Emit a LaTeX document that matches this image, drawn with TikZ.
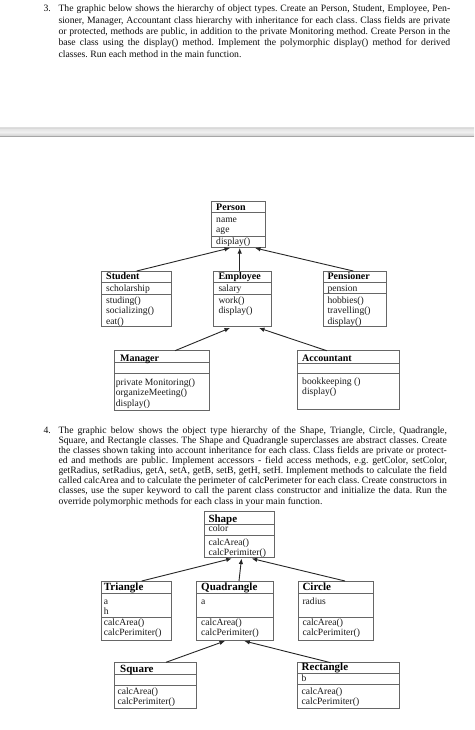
\documentclass[tikz,border=0pt]{standalone}
\usepackage{fontspec}
\setmainfont{Liberation Serif}
\frenchspacing
\usetikzlibrary{arrows.meta,calc}
\tikzset{
 boxfr/.style={draw=black!60, line width=0.7pt, inner sep=0pt, outer sep=0pt, anchor=north west},
 divl/.style={draw=black!60, line width=0.7pt},
 ttl/.style={font=\fontsize{10}{10}\selectfont\bfseries, inner sep=0pt, anchor=base west, text=black},
 ttlb/.style={font=\fontsize{11}{11}\selectfont\bfseries, inner sep=0pt, anchor=base west, text=black},
 itm/.style={font=\fontsize{9.6}{10}\selectfont, inner sep=0pt, anchor=base west, text=black!90},
 para/.style={font=\fontsize{9.7}{10}\selectfont, inner sep=0pt, anchor=base west, text=black!95},
 inh/.style={draw=black!85, line width=0.9pt, -{Latex[length=5.5pt,width=4.5pt]}},
}
% name, x1, y1, x2, y2, divider1, divider2
\newcommand\umlframe[7]{%
 \node[boxfr, minimum width={(#4-#2)*1pt}, minimum height={(#5-#3)*1pt}] (#1) at (#2,#3) {};
 \draw[divl] ($(#1.north west)+(0,#6-#3)$) -- ($(#1.north east)+(0,#6-#3)$);
 \draw[divl] ($(#1.north west)+(0,#7-#3)$) -- ($(#1.north east)+(0,#7-#3)$);
}
\begin{document}
\begin{tikzpicture}[x=1pt,y=-1pt]
\useasboundingbox (0,0) rectangle (474,730);
\fill[white] (0,0) rectangle (474,730);

% ---------- section 3 text ----------
\node[para] (n3) at (43.3,12) {3.};
\node[para] (p3a) at (58.3,12) {\makebox[391.7pt][s]{The graphic below shows the hierarchy of object types. Create an Person, Student, Employee, Pen-}};
\node[para] (p3b) at (58.3,23.3) {\makebox[391.7pt][s]{sioner, Manager, Accountant class hierarchy with inheritance for each class. Class fields are private}};
\node[para] (p3c) at (58.3,34.6) {\makebox[391.7pt][s]{or protected, methods are public, in addition to the private Monitoring method. Create Person in the}};
\node[para] (p3d) at (58.3,45.9) {\makebox[391.7pt][s]{base class using the display() method. Implement the polymorphic display() method for derived}};
\node[para] (p3e) at (58.3,57.2) {classes. Run each method in the main function.};

% ---------- gray bar ----------
\shade[top color=black!12, bottom color=black!20, middle color=black!6] (0,127.7) rectangle (474,136.5);
\draw[black!35, line width=0.8pt] (0,136.7) -- (474,136.7);
\draw[black!15, line width=0.4pt] (0,127.9) -- (474,127.9);

% ---------- top diagram ----------
\umlframe{person}{211.7}{201}{265.7}{247.3}{212.3}{236.7}
\node[ttl] (person-t) at (216,210) {Person};
\node[itm] (person-a1) at (216,222.3) {name};
\node[itm] (person-a2) at (216,232.3) {age};
\node[itm] (person-m1) at (216,244) {display()};

\umlframe{student}{101.7}{271}{171}{326.7}{282.7}{294}
\node[ttl] (student-t) at (106,279.5) {Student};
\node[itm] (student-a1) at (106,291.5) {scholarship};
\node[itm] (student-m1) at (106,303.5) {studing()};
\node[itm] (student-m2) at (106,313.8) {socializing()};
\node[itm] (student-m3) at (106,324) {eat()};

\umlframe{employee}{213.3}{271}{271.7}{326.7}{282.7}{294}
\node[ttl] (employee-t) at (218.3,279.5) {Employee};
\node[itm] (employee-a1) at (218.3,291.5) {salary};
\node[itm] (employee-m1) at (218.3,303.5) {work()};
\node[itm] (employee-m2) at (218.3,313.8) {display()};

\umlframe{pensioner}{323.3}{271}{386.7}{326.7}{282}{293.5}
\node[ttl] (pensioner-t) at (327.3,279.5) {Pensioner};
\node[itm] (pensioner-a1) at (327.3,291.5) {pension};
\node[itm] (pensioner-m1) at (327.3,303.5) {hobbies()};
\node[itm] (pensioner-m2) at (327.3,313.8) {travelling()};
\node[itm] (pensioner-m3) at (327.3,324) {display()};

\umlframe{manager}{114}{350.7}{209.3}{410}{362.7}{373.3}
\node[ttl] (manager-t) at (120,361) {Manager};
\node[itm] (manager-m1) at (115.7,385.5) {private Monitoring()};
\node[itm] (manager-m2) at (115.7,395.5) {organizeMeeting()};
\node[itm] (manager-m3) at (115.7,406) {display()};

\umlframe{accountant}{297}{350.7}{399.3}{409.3}{363}{373.3}
\node[ttl] (accountant-t) at (302,361) {Accountant};
\node[itm] (accountant-m1) at (302,384.7) {bookkeeping ()};
\node[itm] (accountant-m2) at (302,394.7) {display()};

\draw[inh] ($(student.north west)+(35,0)$) -- ($(person.south west)+(18.3,0.7)$);
\draw[inh] ($(employee.north west)+(26.4,0)$) -- ($(person.south west)+(28,0.7)$);
\draw[inh] ($(pensioner.north west)+(30,0)$) -- ($(person.south west)+(43.3,0.7)$);
\draw[inh] ($(manager.north west)+(61,0)$) -- ($(employee.south west)+(16.7,1.3)$);
\draw[inh] ($(accountant.north west)+(29.7,0)$) -- ($(employee.south west)+(45.7,1.3)$);

% ---------- section 4 text ----------
\node[para] (n4) at (43.3,433.3) {4.};
\node[para] (p4a) at (58.3,433.3) {\makebox[388.4pt][s]{The graphic below shows the object type hierarchy of the Shape, Triangle, Circle, Quadrangle,}};
\node[para] (p4b) at (58.3,443.4) {\makebox[388.4pt][s]{Square, and Rectangle classes. The Shape and Quadrangle superclasses are abstract classes. Create}};
\node[para] (p4c) at (58.3,453.5) {\makebox[388.4pt][s]{the classes shown taking into account inheritance for each class. Class fields are private or protect-}};
\node[para] (p4d) at (58.3,463.6) {\makebox[388.4pt][s]{ed and methods are public. Implement accessors - field access methods, e.g. getColor, setColor,}};
\node[para] (p4e) at (58.3,473.7) {\makebox[388.4pt][s]{getRadius, setRadius, getA, setA, getB, setB, getH, setH. Implement methods to calculate the field}};
\node[para] (p4f) at (58.3,483.8) {\makebox[388.4pt][s]{called calcArea and to calculate the perimeter of calcPerimeter for each class. Create constructors in}};
\node[para] (p4g) at (58.3,493.9) {\makebox[388.4pt][s]{classes, use the super keyword to call the parent class constructor and initialize the data. Run the}};
\node[para] (p4h) at (58.3,504) {override polymorphic methods for each class in your main function.};

% ---------- bottom diagram ----------
\umlframe{shape}{204.3}{511}{274.3}{557.5}{524}{535}
\node[ttlb] (shape-t) at (208.3,522) {Shape};
\node[itm] (shape-a1) at (208.3,531.5) {color};
\node[itm] (shape-m1) at (208.3,545) {calcArea()};
\node[itm] (shape-m2) at (208.3,555.5) {calcPerimiter()};

\umlframe{triangle}{101.7}{581}{171.7}{640}{593}{617.8}
\node[ttlb] (triangle-t) at (103.7,590.5) {Triangle};
\node[itm] (triangle-a1) at (103.7,604) {a};
\node[itm] (triangle-a2) at (103.7,614) {h};
\node[itm] (triangle-m1) at (103.7,625) {calcArea()};
\node[itm] (triangle-m2) at (103.7,635) {calcPerimiter()};

\umlframe{quad}{196.7}{581}{273.3}{640}{593}{617.8}
\node[ttlb] (quad-t) at (201,590.5) {Quadrangle};
\node[itm] (quad-a1) at (201,604) {a};
\node[itm] (quad-m1) at (201,625) {calcArea()};
\node[itm] (quad-m2) at (201,635) {calcPerimiter()};

\umlframe{circle}{298.3}{581}{373.3}{640}{593}{617.8}
\node[ttlb] (circle-t) at (302.3,590.5) {Circle};
\node[itm] (circle-a1) at (302.3,604) {radius};
\node[itm] (circle-m1) at (302.3,625) {calcArea()};
\node[itm] (circle-m2) at (302.3,635) {calcPerimiter()};

\umlframe{square}{114}{662.3}{196.7}{708.3}{674.3}{685.7}
\node[ttlb] (square-t) at (120,672) {Square};
\node[itm] (square-m1) at (117.3,694) {calcArea()};
\node[itm] (square-m2) at (117.3,704) {calcPerimiter()};

\umlframe{rect}{297}{662.7}{399}{708.3}{673.3}{684.3}
\node[ttlb] (rect-t) at (301.5,670.7) {Rectangle};
\node[itm] (rect-a1) at (301.5,681.7) {b};
\node[itm] (rect-m1) at (301.5,694) {calcArea()};
\node[itm] (rect-m2) at (301.5,704.5) {calcPerimiter()};

\draw[inh] ($(triangle.north west)+(40,0)$) -- ($(shape.south west)+(27.4,1)$);
\draw[inh] ($(quad.north west)+(42.3,0)$) -- ($(shape.south west)+(37.2,1)$);
\draw[inh] ($(circle.north west)+(46.7,0)$) -- ($(shape.south west)+(47.4,1)$);
\draw[inh] ($(square.north west)+(52,0)$) -- ($(quad.south west)+(28.3,1)$);
\draw[inh] ($(rect.north west)+(33.7,0)$) -- ($(quad.south west)+(47.6,1)$);
\end{tikzpicture}
\end{document}
